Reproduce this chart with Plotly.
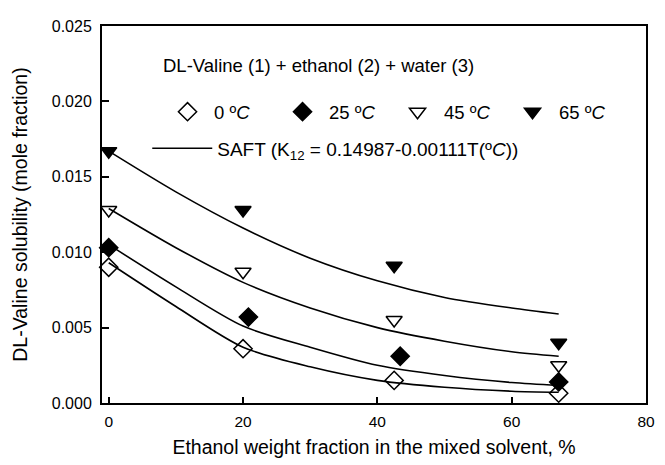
import plotly.graph_objects as go

# ---- data ----
temps = ["0", "25", "45", "65"]
x_exp = [0, 20, 42.5, 67]
x_exp_25 = [0, 20.8, 43.4, 67]
y_exp_0 = [0.0090, 0.0036, 0.0015, 0.00065]
y_exp_25 = [0.0103, 0.0057, 0.0031, 0.0014]
y_exp_45 = [0.0128, 0.0087, 0.0055, 0.0025]
y_exp_65 = [0.0167, 0.0128, 0.0091, 0.0040]

x_saft = [0, 10, 20, 30, 40, 50, 60, 67]
y_saft_0 = [0.0093, 0.0064, 0.0037, 0.0024, 0.0015, 0.00104, 0.00078, 0.00071]
y_saft_25 = [0.0105, 0.0077, 0.0051, 0.0037, 0.0025, 0.00182, 0.00136, 0.00117]
y_saft_45 = [0.0129, 0.0103, 0.0080, 0.0063, 0.0050, 0.0041, 0.0034, 0.0031]
y_saft_65 = [0.0167, 0.0140, 0.0116, 0.0096, 0.0081, 0.0070, 0.0063, 0.0059]

x_ticks = [0, 20, 40, 60, 80]
y_ticks = [0.000, 0.005, 0.010, 0.015, 0.020, 0.025]

FONT = "Arial, Liberation Sans, sans-serif"

# The page body has an 8px margin; compensate so the plot box lands at
# x 102..655, y 20..405 in the 665x465 window.
OFF = 8
PL, PR, PT, PB = 102, 655, 20, 405
PW, PH = PR - PL, PB - PT


def px(xpage):
    return (xpage - PL) / PW


def py(ypage):
    return (PB - ypage) / PH


fig = go.Figure()

# SAFT curves
saft_sets = [y_saft_0, y_saft_25, y_saft_45, y_saft_65]
for i, ys in enumerate(saft_sets):
    fig.add_trace(go.Scatter(
        x=x_saft, y=ys, mode="lines",
        line=dict(color="black", width=1.6, shape="spline", smoothing=0.8),
        name="SAFT (K<sub>12</sub> = 0.14987-0.00111T(º<i>C</i>))",
        legend="legend2", legendgroup="saft", showlegend=(i == 0),
        hoverinfo="skip",
    ))

# experimental points
exp_sets = [
    (x_exp, y_exp_0, "diamond-open"),
    (x_exp_25, y_exp_25, "diamond"),
    (x_exp, y_exp_45, "triangle-down-open"),
    (x_exp, y_exp_65, "triangle-down"),
]
for t, (xs, ys, sym) in zip(temps, exp_sets):
    fig.add_trace(go.Scatter(
        x=xs, y=ys, mode="markers",
        marker=dict(symbol=sym, size=14, color="black",
                    line=dict(color="black", width=1.5)),
        name=f"{t} º<i>C</i>", cliponaxis=False,
    ))

fig.add_annotation(
    text="DL-Valine (1) + ethanol (2) + water (3)",
    xref="paper", yref="paper", x=px(322), y=py(60),
    showarrow=False, font=dict(family=FONT, size=18.5, color="black"),
    xanchor="center", yanchor="middle",
)

fig.update_layout(
    width=665 - OFF, height=465 - OFF,
    margin=dict(l=PL - OFF, r=665 - PR, t=PT - OFF, b=465 - PB),
    paper_bgcolor="white", plot_bgcolor="white",
    font=dict(family=FONT, size=15, color="black"),
    legend=dict(
        orientation="h", x=px(162), y=py(108),
        xanchor="left", yanchor="middle", bgcolor="rgba(0,0,0,0)",
        itemwidth=43,
        entrywidth=57, entrywidthmode="pixels",
        font=dict(family=FONT, size=18.5),
    ),
    legend2=dict(
        orientation="h", x=px(148), y=py(145),
        xanchor="left", yanchor="middle", bgcolor="rgba(0,0,0,0)",
        itemwidth=60,
        font=dict(family=FONT, size=19),
    ),
    xaxis=dict(
        range=[-1, 80], tickvals=x_ticks, ticktext=[str(v) for v in x_ticks],
        ticks="inside", ticklen=6, tickwidth=2, tickcolor="black",
        ticklabelstandoff=3,
        showline=True, linecolor="black", linewidth=2, mirror=True,
        showgrid=False, zeroline=False,
        tickfont=dict(family=FONT, size=15.5),
        title=dict(text="Ethanol weight fraction in the mixed solvent, %",
                   font=dict(family=FONT, size=19.5), standoff=12),
    ),
    yaxis=dict(
        range=[0, 0.025], tickvals=y_ticks,
        ticktext=[f"{v:.3f}" for v in y_ticks],
        ticks="inside", ticklen=7, tickwidth=2, tickcolor="black",
        ticklabelstandoff=5,
        showline=True, linecolor="black", linewidth=2, mirror=True,
        showgrid=False, zeroline=False,
        tickfont=dict(family=FONT, size=16),
        title=dict(text="DL-Valine solubility (mole fraction)",
                   font=dict(family=FONT, size=19.5), standoff=19),
    ),
)

fig.write_html("out.html")
